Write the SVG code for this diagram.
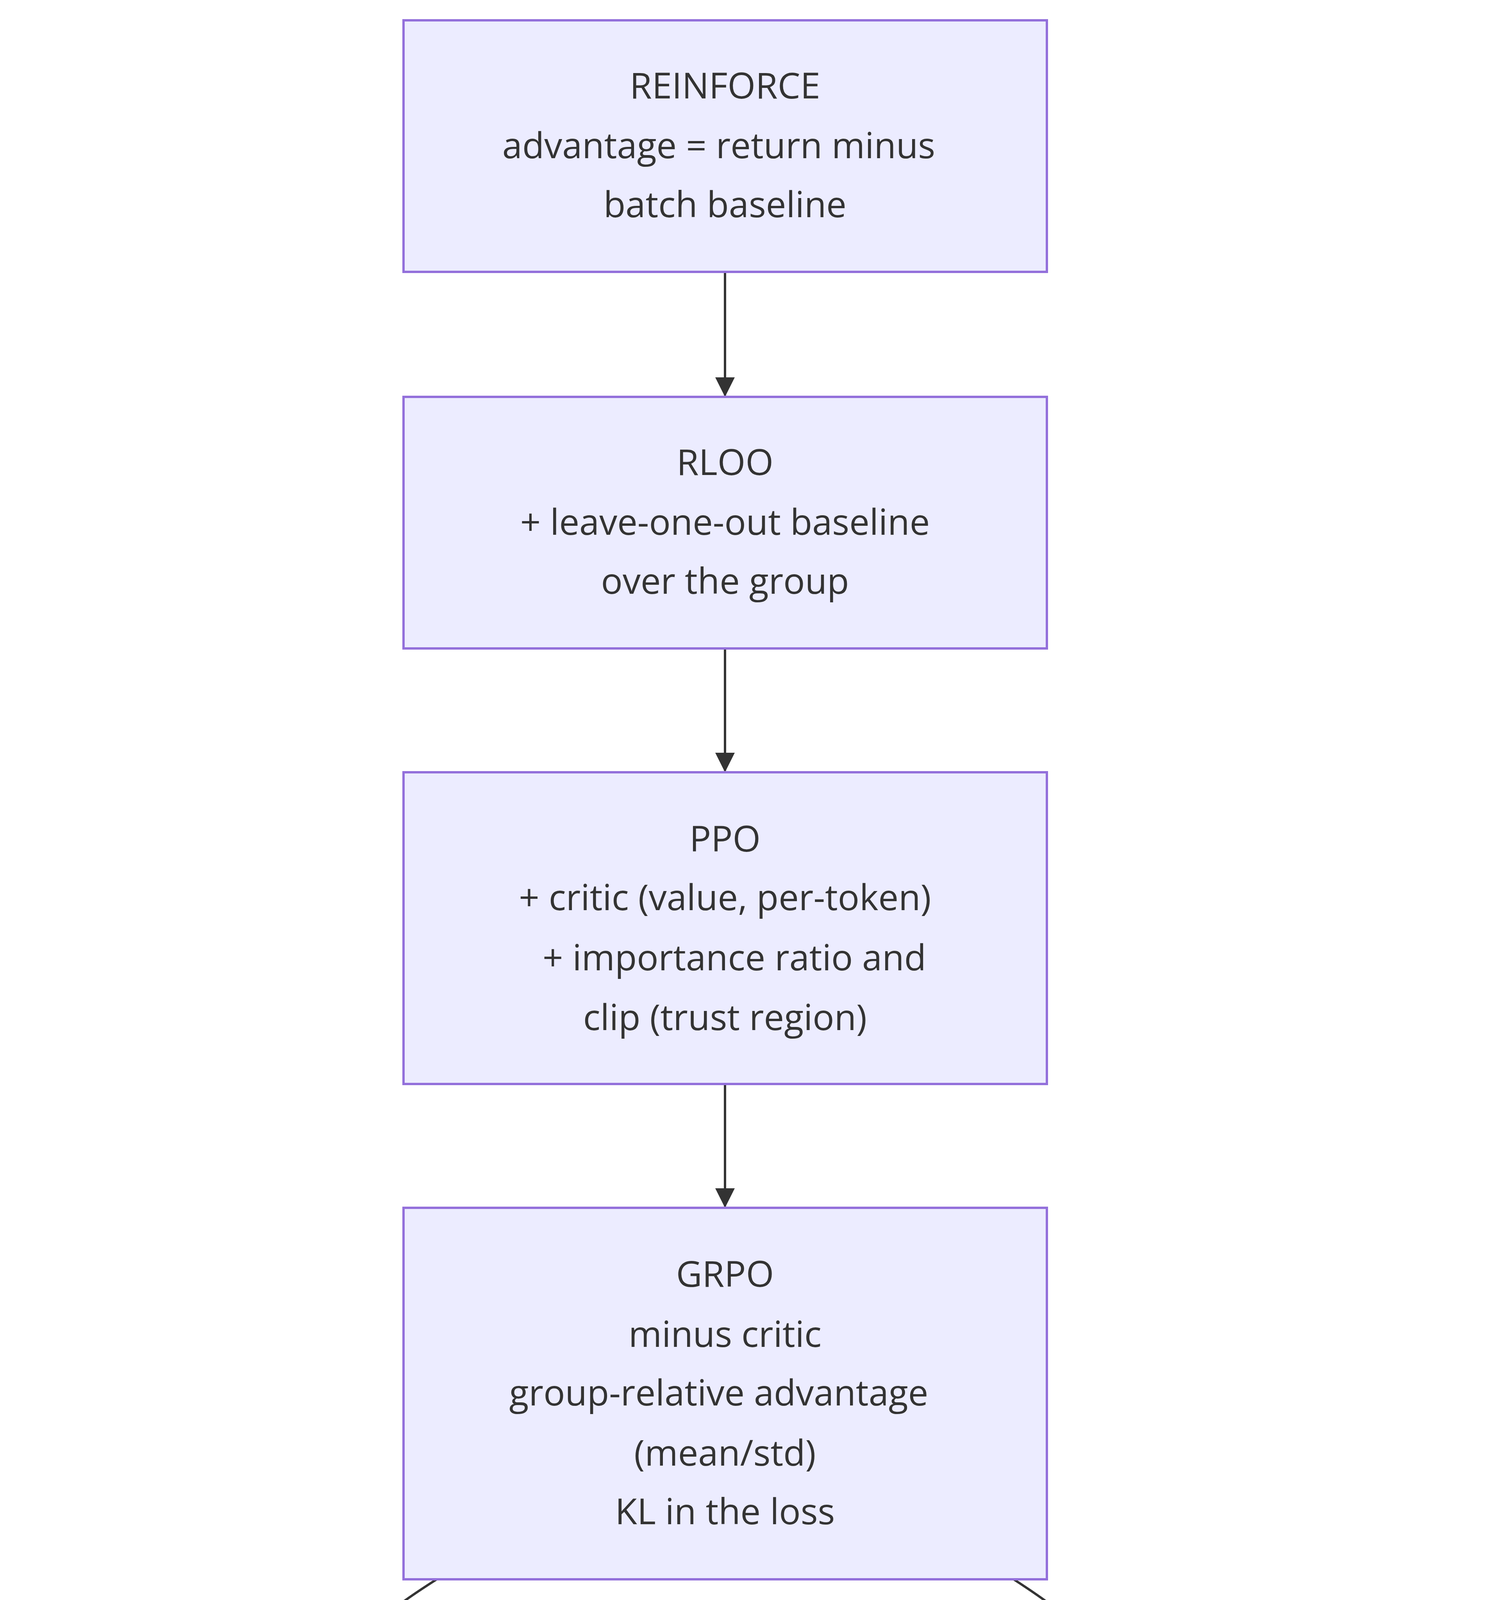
<svg xmlns="http://www.w3.org/2000/svg" width="3840" height="5230" viewBox="0 0 3840 5230">
<style>
.n rect{fill:#ECECFF;stroke:#9370DB;stroke-width:6}
.n text{font-family:"Open Sans","DejaVu Sans",sans-serif;font-size:92px;fill:#333;text-anchor:middle;dominant-baseline:central}
.e path{fill:none;stroke:#333;stroke-width:6}
</style>
<defs>
<marker id="a" markerUnits="userSpaceOnUse" markerWidth="50" markerHeight="50" refX="46" refY="25" orient="auto" viewBox="0 0 50 50">
<path d="M0,0 L50,25 L0,50 z" fill="#333"/>
</marker>
</defs>
<rect width="3840" height="5230" fill="#fff"/>
<g class="e">
<path d="M1856,696 V1012" marker-end="url(#a)"/>
<path d="M1856,1660 V1973" marker-end="url(#a)"/>
<path d="M1856,2775 V3088" marker-end="url(#a)"/>
<path d="M1118,4043 C950,4150 873,4220 873,4352" marker-end="url(#a)"/>
<path d="M2595,4043 C2760,4150 2837,4220 2837,4352" marker-end="url(#a)"/>
</g>
<g class="n" id="reinforce"><rect x="1033" y="52" width="1647" height="644"/>
<text x="1856" y="216">REINFORCE</text><text x="1840" y="369">advantage = return minus</text><text x="1856" y="520">batch baseline</text></g>
<g class="n" id="rloo"><rect x="1033" y="1016" width="1647" height="644"/>
<text x="1856" y="1180">RLOO</text><text x="1856" y="1333">+ leave-one-out baseline</text><text x="1856" y="1484">over the group</text></g>
<g class="n" id="ppo"><rect x="1033" y="1977" width="1647" height="798"/>
<text x="1856" y="2144">PPO</text><text x="1856" y="2294">+ critic (value, per-token)</text><text x="1880" y="2448">+ importance ratio and</text><text x="1856" y="2601">clip (trust region)</text></g>
<g class="n" id="grpo"><rect x="1033" y="3092" width="1647" height="951"/>
<text x="1856" y="3258">GRPO</text><text x="1856" y="3412">minus critic</text><text x="1840" y="3562">group-relative advantage</text><text x="1856" y="3716">(mean/std)</text><text x="1856" y="3866">KL in the loss</text></g>
<g class="n" id="gspo"><rect x="52" y="4356" width="1647" height="647"/>
<text x="873" y="4523">GSPO</text><text x="873" y="4677">+ importance ratio at the</text><text x="873" y="4830">answer level</text></g>
<g class="n" id="cispo"><rect x="2013" y="4356" width="1647" height="647"/>
<text x="2837" y="4523">CISPO</text><text x="2837" y="4677">+ clip weights, gradient on</text><text x="2837" y="4830">all tokens</text></g>
</svg>
